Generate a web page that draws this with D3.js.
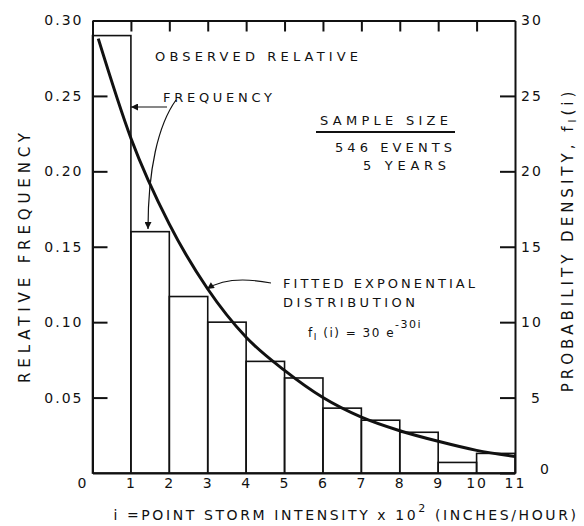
<!DOCTYPE html>
<html>
<head>
<meta charset="utf-8">
<script src="https://cdn.jsdelivr.net/npm/d3@7"></script>
<style>
  body { margin: 0; background: #fff; }
  svg { display: block; font-family: "DejaVu Sans", sans-serif; }
</style>
</head>
<body>
<svg id="chart" width="584" height="526"></svg>
<script>
    // histogram bins (intensity x 10^2, in/hr) and observed relative frequency
    var binStart = [0, 1, 2, 3, 4, 5, 6, 7, 8, 9, 10];
    var relFreq = [0.290, 0.160, 0.117, 0.100, 0.074, 0.063, 0.043, 0.035, 0.027, 0.007, 0.013];

    // fitted exponential curve (probability density)
    var curveI = [0.15, 1, 2, 3, 4, 5, 6, 7, 8, 9, 10, 11];
    var curveDensity = [28.8, 22.2, 16.5, 12.2, 9.0, 6.8, 5.0, 3.7, 2.8, 2.1, 1.5, 1.1];

    var bottomTicks = [0, 1, 2, 3, 4, 5, 6, 7, 8, 9, 10, 11];
    var topTicks = [1, 2, 3, 4, 5, 6, 7, 8, 9, 10];
    var leftTicks = [0.05, 0.10, 0.15, 0.20, 0.25, 0.30];
    var rightTicks = [0, 5, 10, 15, 20, 25, 30];

    var ink = "#111";
    var svg = d3.select("#chart");

    var x = d3.scaleLinear().domain([0, 11]).range([92.5, 515]),
        y = d3.scaleLinear().domain([0, 0.30]).range([473, 20.5]),
        yd = d3.scaleLinear().domain([0, 30]).range([473, 20.5]);

    // arrow head
    svg.append("defs").append("marker")
        .attr("id", "head")
        .attr("viewBox", "0 0 10 10")
        .attr("refX", 10).attr("refY", 5)
        .attr("markerUnits", "userSpaceOnUse")
        .attr("markerWidth", 10).attr("markerHeight", 7)
        .attr("orient", "auto")
        .append("path")
        .attr("d", "M0,0L10,5L0,10z")
        .attr("fill", ink);

    function styleAxis(g, size) {
        g.attr("font-family", "DejaVu Sans, sans-serif")
            .attr("font-size", size);
        g.selectAll("path, line").attr("stroke", ink).attr("stroke-width", 2);
        g.selectAll("text").attr("fill", ink).style("letter-spacing", "2px");
    }

    // top frame with inward ticks
    svg.append("g")
        .attr("transform", "translate(0," + y(0.30) + ")")
        .call(d3.axisTop(x).tickValues(topTicks).tickSize(-11).tickSizeOuter(0).tickFormat(""))
        .call(styleAxis, 14);

    // left axis
    svg.append("g")
        .attr("transform", "translate(" + x(0) + ",0)")
        .call(d3.axisLeft(y).tickValues(leftTicks).tickSize(-15).tickSizeOuter(0)
            .tickPadding(9).tickFormat(d3.format(".2f")))
        .call(styleAxis, 14);

    // right axis (density)
    var right = svg.append("g")
        .attr("transform", "translate(" + x(11) + ",0)")
        .call(d3.axisRight(yd).tickValues(rightTicks).tickSize(-15).tickSizeOuter(0).tickPadding(6))
        .call(styleAxis, 14);
    right.selectAll("text").filter(function (d) { return d < 10; }).attr("dx", 10);
    right.selectAll("text").filter(function (d) { return d === 0; }).attr("dx", 19).attr("dy", "0.05em");

    // bottom axis
    var bottom = svg.append("g")
        .attr("transform", "translate(0," + y(0) + ")")
        .call(d3.axisBottom(x).tickValues(bottomTicks).tickSize(0).tickPadding(5))
        .call(styleAxis, 14);
    bottom.selectAll("text").filter(function (d) { return d === 0; }).attr("dx", -10);

    // histogram
    svg.append("g").selectAll("rect")
        .data(binStart)
        .enter().append("rect")
        .attr("x", function (d) { return x(d); })
        .attr("width", function (d) { return x(d + 1) - x(d); })
        .attr("y", function (d, i) { return y(relFreq[i]); })
        .attr("height", function (d, i) { return y(0) - y(relFreq[i]); })
        .attr("fill", "none")
        .attr("stroke", ink)
        .attr("stroke-width", 1.6);

    // fitted curve
    var line = d3.line()
        .x(function (d, i) { return x(curveI[i]); })
        .y(function (d) { return yd(d); })
        .curve(d3.curveMonotoneX);

    svg.append("path")
        .attr("d", line(curveDensity))
        .attr("fill", "none")
        .attr("stroke", ink)
        .attr("stroke-width", 3);

    // annotations
    function label(txt, px, py, len, size) {
        return svg.append("text")
            .attr("x", px).attr("y", py)
            .attr("font-size", size || 13)
            .attr("textLength", len)
            .attr("lengthAdjust", "spacing")
            .attr("fill", ink)
            .text(txt);
    }

    label("OBSERVED RELATIVE", 155, 61, 203);
    label("FREQUENCY", 163, 102, 109);
    label("SAMPLE SIZE", 320, 125, 128);
    label("546 EVENTS", 335, 152, 117);
    label("5 YEARS", 363, 170, 83);
    label("FITTED EXPONENTIAL", 283, 288, 192);
    label("DISTRIBUTION", 283, 307, 132);

    svg.append("line")
        .attr("x1", 316).attr("x2", 455)
        .attr("y1", 132).attr("y2", 132)
        .attr("stroke", ink).attr("stroke-width", 1.8);

    var formula = svg.append("text")
        .attr("x", 308).attr("y", 337)
        .attr("font-size", 12)
        .attr("fill", ink)
        .style("letter-spacing", "1.5px");
    formula.append("tspan").text("f");
    formula.append("tspan").attr("dy", 3).attr("font-size", 9).text("I");
    formula.append("tspan").attr("dy", -3).text(" (i) = 30 e");
    formula.append("tspan").attr("dy", -9).attr("font-size", 11).text("-30i");

    // arrows
    var arrows = [
        "M167,107L131,107",
        "M176,100C158,125 148,170 148,229",
        "M271,283C245,278 222,279 207,289"
    ];
    svg.append("g").selectAll("path")
        .data(arrows)
        .enter().append("path")
        .attr("d", function (d) { return d; })
        .attr("fill", "none")
        .attr("stroke", ink)
        .attr("stroke-width", 1.2)
        .attr("marker-end", "url(#head)");

    // axis titles
    svg.append("text")
        .attr("transform", "translate(30,258) rotate(-90)")
        .attr("text-anchor", "middle")
        .attr("font-size", 15)
        .attr("textLength", 250)
        .attr("lengthAdjust", "spacing")
        .attr("fill", ink)
        .text("RELATIVE FREQUENCY");

    var rt = svg.append("text")
        .attr("transform", "translate(573,240) rotate(-90)")
        .attr("text-anchor", "middle")
        .attr("font-size", 15)
        .attr("fill", ink)
        .style("letter-spacing", "4px");
    rt.append("tspan").text("PROBABILITY DENSITY, f");
    rt.append("tspan").attr("dy", 3).attr("font-size", 10).text("I");
    rt.append("tspan").attr("dy", -3).text("(i)");

    var bt = svg.append("text")
        .attr("x", 346).attr("y", 520)
        .attr("text-anchor", "middle")
        .attr("font-size", 14)
        .attr("fill", ink)
        .style("letter-spacing", "2.6px");
    bt.append("tspan").text("i =POINT STORM INTENSITY x 10");
    bt.append("tspan").attr("dy", -8).attr("font-size", 11).text("2");
    bt.append("tspan").attr("dy", 8).text(" (INCHES/HOUR)");
</script>
</body>
</html>
